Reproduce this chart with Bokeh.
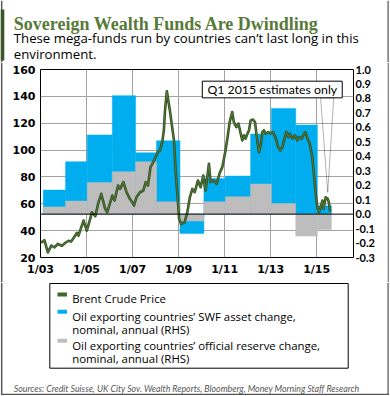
from bokeh.plotting import figure
from bokeh.layouts import column, row
from bokeh.models import (Range1d, LinearAxis, FixedTicker, Span, Label,
                          PolyAnnotation, BoxAnnotation, PrintfTickFormatter)
from bokeh.embed import file_html
from bokeh.resources import INLINE

# ---------------- data ----------------
brent_t = [2003.02, 2003.17, 2003.32, 2003.47, 2003.61, 2003.75, 2003.93,
           2004.07, 2004.22, 2004.33, 2004.48, 2004.58, 2004.65, 2004.77, 2004.87,
           2005.01, 2005.16, 2005.23, 2005.38, 2005.52, 2005.64, 2005.81, 2005.90,
           2006.12, 2006.22, 2006.37, 2006.46, 2006.60, 2006.74, 2006.88, 2006.99,
           2007.06, 2007.17, 2007.32, 2007.47, 2007.57, 2007.67, 2007.78, 2007.90,
           2008.00, 2008.10, 2008.19, 2008.29, 2008.36, 2008.41, 2008.49, 2008.62,
           2008.72, 2008.80, 2008.87, 2008.97,
           2009.02, 2009.11, 2009.26, 2009.38, 2009.49, 2009.60, 2009.70, 2009.84, 2009.96,
           2010.07, 2010.17, 2010.32, 2010.39, 2010.53, 2010.65, 2010.80, 2010.90,
           2011.04, 2011.13, 2011.22, 2011.33, 2011.40, 2011.51, 2011.60, 2011.70,
           2011.77, 2011.84, 2011.91, 2011.99,
           2012.06, 2012.13, 2012.23, 2012.32, 2012.38, 2012.49, 2012.57, 2012.64,
           2012.71, 2012.78, 2012.90,
           2013.00, 2013.10, 2013.22, 2013.33, 2013.43, 2013.51, 2013.62, 2013.68,
           2013.77, 2013.83, 2013.94,
           2014.06, 2014.16, 2014.23, 2014.35, 2014.45, 2014.52, 2014.60, 2014.70,
           2014.81, 2014.88, 2014.96,
           2015.03, 2015.10, 2015.17, 2015.25, 2015.30, 2015.39, 2015.48, 2015.53, 2015.58]
brent_price = [31.0, 32.9, 23.8, 28.8, 27.5, 30.1, 28.8,
               30.8, 32.5, 31.8, 35.7, 38.3, 36.3, 42.5, 47.5,
               40.0, 48.7, 53.7, 50.7, 61.1, 67.4, 56.2, 53.7,
               66.1, 62.4, 73.6, 71.1, 76.1, 68.6, 63.7, 61.1,
               58.7, 64.9, 68.6, 69.9, 76.1, 73.6, 87.3, 91.0,
               94.7, 98.5, 99.7, 105.9, 114.7, 129.6, 143.8, 129.6, 117.1, 107.2, 84.8, 62.4,
               49.0, 45.0, 46.2, 53.7, 64.9, 71.1, 68.6, 77.3, 72.3,
               81.1, 69.9, 89.8, 76.1, 77.3, 74.9, 83.5, 87.3,
               99.7, 109.7, 120.9, 128.3, 120.9, 117.1, 119.7, 112.2, 107.2, 110.9, 108.5, 112.2,
               114.7, 122.1, 122.7, 120.9, 112.2, 98.5, 103.5, 113.4, 114.7, 112.2, 113.4,
               112.4, 113.4, 109.1, 102.2, 99.7, 102.2, 109.7, 113.4, 109.7, 112.2, 108.5,
               110.9, 107.2, 109.7, 108.5, 112.2, 113.4, 108.5, 104.7, 94.7, 82.3, 67.4,
               57.4, 53.7, 57.4, 62.4, 56.2, 64.9, 63.7, 61.1, 54.2]

bar_start = [2003.12, 2004.09, 2005.03, 2006.12, 2007.13, 2008.04, 2009.06,
             2010.10, 2011.04, 2012.13, 2013.03, 2014.09, 2015.03]
bar_end = [2004.09, 2005.03, 2006.12, 2007.13, 2008.04, 2009.06, 2010.10,
           2011.04, 2012.13, 2013.03, 2014.09, 2015.03, 2015.64]
swf_change = [0.166, 0.362, 0.547, 0.819, 0.424, 0.507, -0.134,
              0.247, 0.263, 0.554, 0.731, 0.616, 0.057]
reserve_change = [0.050, 0.090, 0.219, 0.293, 0.362, 0.085, -0.048,
                  0.085, 0.120, 0.208, 0.074, -0.152, -0.106]

x_ticks = [2003, 2005, 2007, 2009, 2011, 2013, 2015]
x_tick_labels = ["1/03", "1/05", "1/07", "1/09", "1/11", "1/13", "1/15"]
lhs_ticks = [20, 40, 60, 80, 100, 120, 140, 160]
rhs_ticks = [-0.3, -0.2, -0.1, 0.0, 0.1, 0.2, 0.3, 0.4, 0.5, 0.6, 0.7, 0.8, 0.9, 1.0]

legend_labels = ["Brent Crude Price",
                 ["Oil exporting countries\u2019 SWF asset change,", "nominal, annual (RHS)"],
                 ["Oil exporting countries\u2019 official reserve change,", "nominal, annual (RHS)"]]

BLUE = "#00aeef"
GRAY = "#bdbdbd"
GREEN = "#3f6b2a"
TITLE_GREEN = "#587a38"
EDGE = "#555555"

W = 390
H_HEAD, H_MAIN, H_FOOT = 62, 220, 114
SIDE = 3


def blank(width, height, x0, y0):
    # frame covers whole canvas; data x = page x, data y = -page y
    f = figure(width=width, height=height, output_backend="svg", toolbar_location=None,
               x_range=Range1d(x0, x0 + width), y_range=Range1d(-(y0 + height), -y0),
               x_axis_type=None, y_axis_type=None, min_border=0, frame_align=False)
    f.outline_line_color = None
    f.grid.visible = False
    f.background_fill_color = "white"
    f.border_fill_color = "white"
    return f


def side_edges(f, y_top, y_bot):
    f.add_layout(BoxAnnotation(left=0.4, right=1.9, top=-y_top, bottom=-y_bot,
                               fill_color=EDGE, fill_alpha=1, line_color=None))
    f.add_layout(BoxAnnotation(left=387, right=388.2, top=-y_top, bottom=-y_bot,
                               fill_color=EDGE, fill_alpha=1, line_color=None))

# ---------------- header ----------------
head = blank(W, H_HEAD, 0, 0)
side_edges(head, 0, H_HEAD)
head.add_layout(BoxAnnotation(left=0, right=3.8, top=-9, bottom=-60,
                              fill_color="#3b5526", fill_alpha=1, line_color=None))
head.add_layout(Label(x=13.3, y=-23.5, text="Sovereign Wealth Funds Are Dwindling",
                      text_font="Liberation Serif", text_font_style="bold",
                      text_font_size="18px", text_color=TITLE_GREEN,
                      text_baseline="alphabetic"))
head.add_layout(Label(x=13.3, y=-37.5,
                      text="These mega-funds run by countries can\u2019t last long in this",
                      text_font="Open Sans", text_font_size="13.2px", text_color="black",
                      text_baseline="alphabetic"))
head.add_layout(Label(x=13.3, y=-53.5, text="environment.", text_font="Open Sans",
                      text_font_size="13.2px", text_color="black", text_baseline="alphabetic"))

# ---------------- main chart ----------------
MAIN_W = W - 2 * SIDE
p = figure(width=MAIN_W, height=H_MAIN, output_backend="svg", toolbar_location=None,
           x_range=Range1d(2003, 2016.6), y_range=Range1d(20, 160),
           min_border_left=40 - SIDE, min_border_right=(W - SIDE) - 353,
           min_border_top=69 - H_HEAD, min_border_bottom=25, frame_align=False)
p.extra_y_ranges = {"rhs": Range1d(-0.3, 1.0)}
p.background_fill_color = "white"
p.border_fill_color = "white"
p.outline_line_color = "black"
p.outline_line_width = 1

p.xgrid.ticker = FixedTicker(ticks=x_ticks)
p.ygrid.ticker = FixedTicker(ticks=lhs_ticks)
for g in (p.xgrid[0], p.ygrid[0]):
    g.grid_line_color = "#a3a3a3"
    g.grid_line_width = 1


def style_axis(ax):
    ax.axis_line_color = None
    ax.major_tick_line_color = None
    ax.minor_tick_line_color = None
    ax.major_tick_out = 0
    ax.major_tick_in = 0
    ax.major_label_text_color = "black"


yl = p.yaxis[0]
style_axis(yl)
yl.ticker = FixedTicker(ticks=lhs_ticks)
yl.major_label_text_font = "DejaVu Sans"
yl.major_label_text_font_style = "bold"
yl.major_label_text_font_size = "11px"
yl.major_label_standoff = 5

xb = p.xaxis[0]
style_axis(xb)
xb.ticker = FixedTicker(ticks=x_ticks)
xb.major_label_overrides = {t: l for t, l in zip(x_ticks, x_tick_labels)}
xb.major_label_text_font = "DejaVu Sans"
xb.major_label_text_font_style = "bold"
xb.major_label_text_font_size = "11px"
xb.major_label_standoff = 5

yr = LinearAxis(y_range_name="rhs", ticker=FixedTicker(ticks=rhs_ticks),
                formatter=PrintfTickFormatter(format="%.1f"))
style_axis(yr)
yr.major_label_text_font = "Lato"
yr.major_label_text_font_style = "bold"
yr.major_label_text_font_size = "11px"
yr.major_label_standoff = 2
p.add_layout(yr, "right")

# bars (RHS)
p.quad(left=bar_start, right=bar_end, bottom=0, top=swf_change, y_range_name="rhs",
       fill_color=BLUE, line_color=BLUE, line_width=0.5)
p.quad(left=bar_start, right=bar_end, bottom=0, top=reserve_change, y_range_name="rhs",
       fill_color=GRAY, line_color=GRAY, line_width=0.5)

p.add_layout(Span(location=0, dimension="width", y_range_name="rhs",
                  line_color="black", line_width=1))

# Brent line
p.line(brent_t, brent_price, line_color="#2f4b1f", line_width=2.6, line_join="round")
p.line(brent_t, brent_price, line_color="#52793a", line_width=1.1, line_join="round")

# callout
p.add_layout(BoxAnnotation(left=2010.03, right=2016.11, bottom=138.9, top=151.3,
                           fill_color="white", fill_alpha=1, line_color="black",
                           line_width=1, line_alpha=1))
p.add_layout(PolyAnnotation(xs=[2015.17, 2015.48, 2015.74], ys=[138.9, 68.4, 138.9],
                            fill_alpha=0, line_color="black", line_width=1))
p.add_layout(Label(x=2013.07, y=145.1, text="Q1 2015 estimates only",
                   text_align="center", text_baseline="middle",
                   text_font="Lato", text_font_size="12.3px", text_color="black"))

left_strip = blank(SIDE, H_MAIN, 0, H_HEAD)
side_edges(left_strip, H_HEAD, H_HEAD + H_MAIN)
right_strip = blank(SIDE, H_MAIN, W - SIDE, H_HEAD)
side_edges(right_strip, H_HEAD, H_HEAD + H_MAIN)

# ---------------- footer (legend + sources) ----------------
Y0 = H_HEAD + H_MAIN
foot = blank(W, H_FOOT, 0, Y0)
side_edges(foot, Y0, 394.5)
foot.add_layout(BoxAnnotation(left=0.4, right=388.2, top=-393.2, bottom=-394.6,
                              fill_color=EDGE, fill_alpha=1, line_color=None))
foot.add_layout(BoxAnnotation(left=49.3, right=347.7, top=-283, bottom=-367.7,
                              fill_alpha=0, line_color="black", line_width=1, line_alpha=1))
swatch_colors = [GREEN, BLUE, GRAY]
swatch_y = [294, 311.3, 340.3]
line_baselines = [[298.2], [315.5, 328.5], [344.5, 357.8]]
for col, sy, lab, bl in zip(swatch_colors, swatch_y, legend_labels, line_baselines):
    foot.add_layout(BoxAnnotation(left=57, right=66.5, top=-(sy - 2), bottom=-(sy + 2),
                                  fill_color=col, fill_alpha=1, line_color=None))
    lines = [lab] if isinstance(lab, str) else lab
    for txt, b in zip(lines, bl):
        foot.add_layout(Label(x=71.7, y=-b, text=txt, text_font="Open Sans",
                              text_font_size="11.4px", text_color="black",
                              text_baseline="alphabetic"))
foot.add_layout(Label(x=13.3, y=-388.3,
                      text="Sources: Credit Suisse, UK City Sov. Wealth Reports, Bloomberg, Money Morning Staff Research",
                      text_font="Lato", text_font_style="italic", text_font_size="8.8px",
                      text_color="#555555", text_baseline="alphabetic"))

layout = column(head, row(left_strip, p, right_strip, spacing=0), foot, spacing=0)
open("out.html", "w").write(file_html(layout, INLINE))
